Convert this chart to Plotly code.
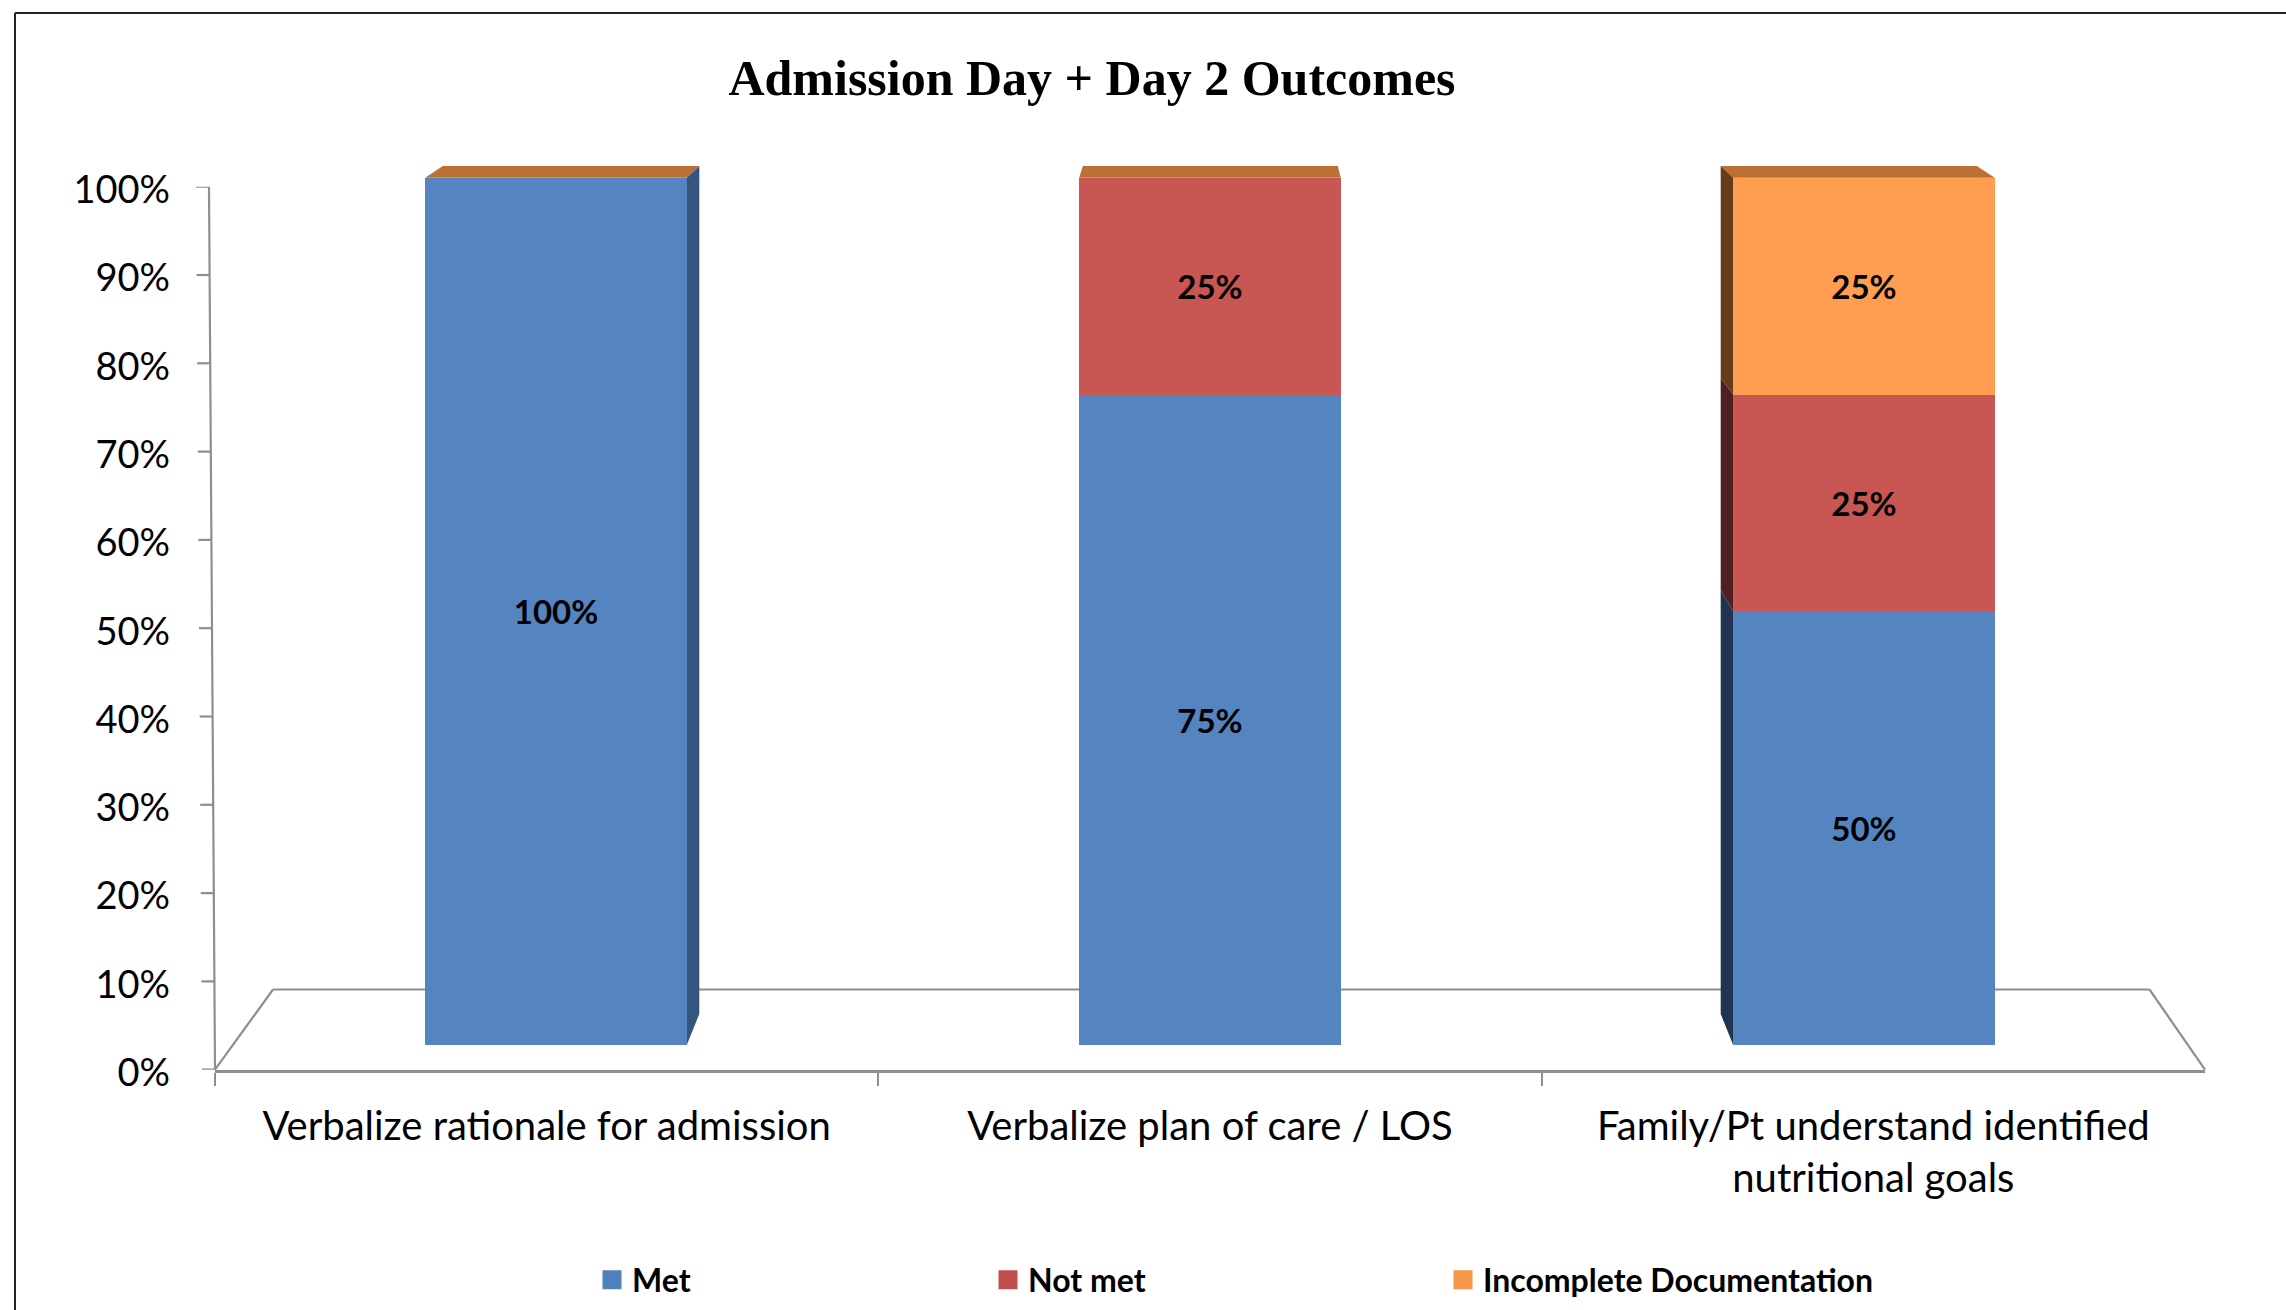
import plotly.graph_objects as go

W, H = 2286, 1310

# ---- data ----
categories = ["Verbalize rationale for admission",
              "Verbalize plan of care / LOS",
              "Family/Pt understand identified nutritional goals"]
category_labels = ["Verbalize rationale for admission",
                   "Verbalize plan of care / LOS",
                   "Family/Pt understand identified<br>nutritional goals"]
met = [100, 75, 50]
not_met = [0, 25, 25]
incomplete = [0, 0, 25]
y_ticks = [0, 10, 20, 30, 40, 50, 60, 70, 80, 90, 100]
y_tick_labels = [f"{v}%" for v in y_ticks]
series_names = ["Met", "Not met", "Incomplete Documentation"]
title_text = "Admission Day + Day 2 Outcomes"

# ---- styling ----
front_colors = ["#5485C1", "#C85754", "#FF9D50"]
legend_colors = ["#4F81BD", "#C0504D", "#F79646"]
left_side_colors = ["#20344F", "#4F2020", "#653B1B"]
right_side_color = "#33557F"
cap_color = "#BB7135"
grey = "#8E8E8E"
FONT = "Lato"

# pixel geometry of the two overlaid coordinate frames
bars_x0, bars_x1 = 229, 2191
bars_ytop, bars_ybot = 177.7, 1045
axis_x0, axis_x1 = 215, 2205
axis_ytop, axis_ybot = 186.7, 1069.7
axis_top_x = 209
bars_headroom = 5  # y units above 100 so the top faces are not clipped


def px(x):
    return x / W


def py(y):
    return 1 - y / H


def dx_units(p):
    return p / (bars_x1 - bars_x0) * 3


def dy_units(p):
    return p / (bars_ybot - bars_ytop) * 100


def back_rise(v):
    """Height of the receding face (in y units) for the pseudo-3D look."""
    return dy_units(31 - 19.3 * v / 100)


fig = go.Figure()

# legend entries live on the visible frame, which also activates its axes
for i, (name, col) in enumerate(zip(series_names, legend_colors)):
    fig.add_trace(go.Scatter(
        x=[categories[0]], y=[None], name=name, mode="markers",
        marker=dict(symbol="square", size=16, color=col, line=dict(width=3, color=col)),
        xaxis="x", yaxis="y", legend="legend" if i == 0 else f"legend{i + 1}",
    ))

# bars, in their own slightly offset frame
for name, vals, col in zip(series_names, [met, not_met, incomplete], front_colors):
    fig.add_trace(go.Bar(
        x=categories, y=vals, name=name, xaxis="x2", yaxis="y2",
        marker=dict(color=col, line=dict(width=0)),
        text=[f"{v}%" if v else "" for v in vals],
        textposition="inside", insidetextanchor="middle", textangle=0,
        constraintext="none",
        textfont=dict(family=FONT, size=33, color="black", weight=700),
        showlegend=False, hoverinfo="skip",
    ))

shapes = []


def line(x0, y0, x1, y1, color=grey, width=2.2, yref="paper"):
    shapes.append(dict(type="line", xref="paper", yref=yref, x0=x0, y0=y0, x1=x1, y1=y1,
                       line=dict(color=color, width=width), layer="below"))


# chart border (top and left only)
line(px(15), py(13), 1, py(13), color="#222222", width=2)
line(px(15), py(13), px(15), 0, color="#222222", width=2)

# floor
line(px(axis_x0), py(axis_ybot), px(273), py(989.5))
line(px(273), py(989.5), px(2149.5), py(989.5))
line(px(2149.5), py(989.5), px(axis_x1), py(axis_ybot))

# slanted value axis with its ticks
line(px(axis_top_x), 100, px(axis_x0), 0, yref="y")
for v in y_ticks:
    xv = axis_top_x + (axis_x0 - axis_top_x) * (1 - v / 100)
    line(px(xv - 13), v, px(xv), v, yref="y")


def poly(points, color):
    d = "M" + " L".join(f"{x:.4f},{y:.4f}" for x, y in points) + " Z"
    shapes.append(dict(type="path", xref="x2", yref="y2", path=d, layer="below",
                       fillcolor=color, line=dict(width=0)))


half = 0.2
cap_offsets = [(17.5, 12.5), (3.6, -3), (-12.5, -18)]
for i, offs in enumerate(cap_offsets):
    total = met[i] + not_met[i] + incomplete[i]
    l, r = i - half, i + half
    poly([(l, total), (r, total),
          (r + dx_units(offs[1]), total + back_rise(total)),
          (l + dx_units(offs[0]), total + back_rise(total))], cap_color)

# right-hand side of the first column
s = dx_units(12.5)
e = 0 + half
poly([(e, 0), (e, met[0]), (e + s, met[0] + back_rise(met[0])), (e + s, back_rise(0))],
     right_side_color)

# left-hand side of the third column, one face per segment
b = 2 - half
base = 0
for vals, col in zip([met, not_met, incomplete], left_side_colors):
    top = base + vals[2]
    poly([(b, base), (b, top), (b - s, top + back_rise(top)), (b - s, base + back_rise(base))], col)
    base = top

common_legend = dict(bgcolor="rgba(0,0,0,0)", borderwidth=0, xanchor="left", yanchor="middle",
                     y=py(1280), orientation="h", itemclick=False, itemdoubleclick=False,
                     font=dict(family=FONT, size=32, color="black", weight=700))

fig.update_layout(
    width=W, height=H, margin=dict(l=0, r=0, t=0, b=0, autoexpand=False),
    paper_bgcolor="white", plot_bgcolor="rgba(0,0,0,0)",
    barmode="stack", bargap=0.6, shapes=shapes,
    title=dict(text=title_text, x=1092 / W, y=py(77), xanchor="center", yanchor="middle",
               font=dict(family="Liberation Serif", size=50, color="black", weight=700)),
    xaxis=dict(domain=[px(axis_x0), px(axis_x1)], type="category", categoryorder="array",
               categoryarray=categories, tickmode="array", tickvals=categories,
               ticktext=category_labels, tickson="boundaries", ticks="outside", ticklen=13,
               tickwidth=2, tickcolor=grey, showline=True, linecolor=grey, linewidth=3,
               showgrid=False, zeroline=False, anchor="y", range=[-0.5, 2.5],
               ticklabelstandoff=19,
               tickfont=dict(family=FONT, size=40, color="black")),
    yaxis=dict(domain=[py(axis_ybot), py(axis_ytop)], range=[0, 100], tickmode="array",
               tickvals=y_ticks, ticktext=y_tick_labels, ticks="", showline=False,
               showgrid=False, zeroline=False, anchor="x", ticklabelstandoff=44,
               ticklabelshift=3,
               tickfont=dict(family=FONT, size=38, color="black")),
    xaxis2=dict(domain=[px(bars_x0), px(bars_x1)], type="category", categoryorder="array",
                categoryarray=categories, range=[-0.5, 2.5], visible=False, anchor="y2"),
    yaxis2=dict(domain=[py(bars_ybot),
                        py(bars_ytop - bars_headroom / 100 * (bars_ybot - bars_ytop))],
                range=[0, 100 + bars_headroom], visible=False, anchor="x2"),
    legend=dict(x=px(592), **common_legend),
    legend2=dict(x=px(988), **common_legend),
    legend3=dict(x=px(1443), **common_legend),
)

fig.write_html("out.html", config=dict(displayModeBar=False),
               post_script="document.body.style.margin='0';document.body.style.overflow='hidden';")
